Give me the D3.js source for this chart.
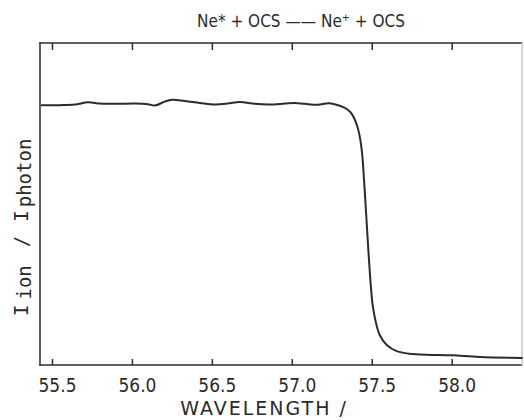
<!DOCTYPE html>
<html>
<head>
<meta charset="utf-8">
<script src="https://cdn.jsdelivr.net/npm/d3@7"></script>
<style>
  body { margin: 0; background: #fff; }
  svg { display: block; font-family: "DejaVu Sans", sans-serif; }
</style>
</head>
<body>
<svg id="chart" width="524" height="420"></svg>
<script>
// wavelength (nm)
const wavelength = [55.431, 55.55, 55.644, 55.725, 55.80, 55.894, 56.019, 56.10, 56.144, 56.206,
  56.25, 56.331, 56.425, 56.519, 56.60, 56.675, 56.769, 56.863, 56.956, 57.019,
  57.081, 57.163, 57.231, 57.30, 57.344, 57.375, 57.40, 57.419, 57.4375, 57.456,
  57.475, 57.494, 57.506, 57.525, 57.55, 57.594, 57.656, 57.756, 57.925, 58.006,
  58.175, 58.444]
// ion / photon ratio, arbitrary units (0 = bottom frame, 1 = top frame)
const ratio = [0.807, 0.807, 0.809, 0.816, 0.812, 0.811, 0.812, 0.810, 0.806, 0.818,
  0.824, 0.820, 0.814, 0.809, 0.812, 0.817, 0.811, 0.809, 0.812, 0.814,
  0.811, 0.808, 0.813, 0.805, 0.795, 0.780, 0.755, 0.724, 0.668, 0.543,
  0.388, 0.248, 0.186, 0.134, 0.093, 0.062, 0.043, 0.034, 0.031, 0.030,
  0.025, 0.022]
const tickValues = [55.5, 56.0, 56.5, 57.0, 57.5, 58.0]

const ink = "#2b2b2b"
const margin = { top: 43, right: 2, bottom: 55, left: 40 }
const width = 524 - margin.left - margin.right
const height = 420 - margin.top - margin.bottom

const svg = d3.select("#chart")
const group = svg.append("g")
  .attr("transform", `translate(${margin.left}, ${margin.top})`)

const xScale = d3.scaleLinear()
  .domain([55.425, 58.44])
  .range([0, width])

const yScale = d3.scaleLinear()
  .domain([0, 1])
  .range([height, 0])

// frame: right side is faint in the scan
const frame = [
  { x1: 0, y1: 0, x2: width, y2: 0, c: ink },
  { x1: 0, y1: height, x2: width, y2: height, c: ink },
  { x1: 0, y1: 0, x2: 0, y2: height, c: ink },
  { x1: width, y1: 0, x2: width, y2: height, c: "#c8c8c8" }
]
group.selectAll("line.frame")
  .data(frame)
  .enter()
  .append("line")
    .attr("class", "frame")
    .attr("x1", d => d.x1).attr("y1", d => d.y1)
    .attr("x2", d => d.x2).attr("y2", d => d.y2)
    .attr("stroke", d => d.c)
    .attr("stroke-width", 1.5)
    .attr("stroke-linecap", "square")

// bottom axis, ticks pointing inward
const xAxisBottom = group.append("g")
  .attr("transform", `translate(0, ${height})`)
  .call(d3.axisBottom(xScale).tickValues(tickValues).tickSize(-6).tickPadding(14).tickFormat(d3.format(".1f")))
xAxisBottom.select(".domain").remove()
xAxisBottom.selectAll("line").attr("stroke", ink).attr("stroke-width", 1.5)
xAxisBottom.selectAll("text")
  .attr("font-size", 19)
  .attr("font-family", "DejaVu Sans, sans-serif")
  .attr("fill", ink)
  .attr("dx", 5)
  .attr("textLength", 38)
  .attr("lengthAdjust", "spacingAndGlyphs")

// top axis, no labels
const xAxisTop = group.append("g")
  .call(d3.axisTop(xScale).tickValues(tickValues).tickSize(-7).tickFormat(""))
xAxisTop.select(".domain").remove()
xAxisTop.selectAll("line").attr("stroke", ink).attr("stroke-width", 1.5)

// trace
const line = d3.line()
  .x((d, i) => xScale(wavelength[i]))
  .y(d => yScale(d))
  .curve(d3.curveCatmullRom.alpha(0.5))

group.append("path")
  .datum(ratio)
  .attr("d", line)
  .attr("fill", "none")
  .attr("stroke", ink)
  .attr("stroke-width", 2)

// title
svg.append("text")
  .attr("x", 301)
  .attr("y", 27)
  .attr("text-anchor", "middle")
  .attr("font-size", 18)
  .attr("fill", ink)
  .attr("textLength", 208)
  .attr("lengthAdjust", "spacingAndGlyphs")
  .text("Ne* + OCS —— Ne⁺ + OCS")

// x label
svg.append("text")
  .attr("x", 264)
  .attr("y", 415)
  .attr("text-anchor", "middle")
  .attr("font-size", 19)
  .attr("letter-spacing", 2)
  .attr("fill", ink)
  .text("WAVELENGTH /")

// y label
svg.append("text")
  .attr("transform", "translate(28, 316) rotate(-90)")
  .attr("text-anchor", "start")
  .attr("font-size", 19)
  .attr("font-family", "DejaVu Sans Mono, monospace")
  .attr("fill", ink)
  .html('I<tspan dx="5" dy="3">ion</tspan><tspan dx="18" dy="-3">/</tspan><tspan dx="14">I</tspan><tspan dx="3" dy="3">photon</tspan>')
</script>
</body>
</html>
